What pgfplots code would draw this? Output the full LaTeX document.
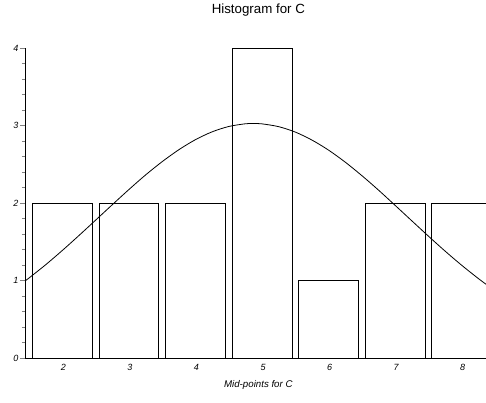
\documentclass[border=0pt]{standalone}
\usepackage{pgfplots}
\pgfplotsset{compat=1.18}
\usepackage{fontspec}
\setmainfont{Liberation Sans}
\begin{document}
\begin{tikzpicture}
\begin{axis}[
  at={(0pt,0pt)}, anchor=south west,
  scale only axis, width=466.7pt, height=310pt,
  xmin=1.44, xmax=8.45, ymin=0, ymax=4,
  clip=false,
  axis lines=left, axis line style={-, line width=0.8pt},
  xtick={2,3,4,5,6,7,8},
  ytick={0,1,2,3,4},
  minor y tick num=4,
  minor x tick num=0,
  xtick style={draw=none},
  ytick align=outside,
  xtick align=inside,
  major tick length=5pt, minor tick length=3pt,
  ytick style={line width=0.7pt},
  minor tick style={line width=0.7pt},
  /pgf/number format/assume math mode=true,
  ticklabel style={font=\fontsize{9}{10}\selectfont\itshape, inner sep=0pt},
  yticklabel style={anchor=east, xshift=-1.3pt},
  xticklabel style={anchor=north, yshift=-6.2pt, xshift=1pt},
  title={Histogram for C},
  title style={at={(axis description cs:0.5,1)}, anchor=base, yshift=28.8pt, inner sep=0pt, font=\fontsize{13.3}{16}\selectfont},
  xlabel={Mid-points for C},
  xlabel style={at={(axis description cs:0.5,0)}, anchor=base, yshift=-29pt, inner sep=0pt, font=\fontsize{9.7}{11}\selectfont\itshape},
]
\addplot[ybar, bar width=0.9, fill=white, draw=black, line width=0.8pt] coordinates {
  (2,2) (3,2) (4,2) (5,4) (6,1) (7,2) (8,2)
};
\addplot[black, line width=0.8pt, smooth] coordinates {
  (1.44,0.997) (1.5,1.036) (1.75,1.207) (2.0,1.391) (2.25,1.584) (2.5,1.782)
  (2.75,1.981) (3.0,2.177) (3.25,2.365) (3.5,2.537) (3.75,2.691) (4.0,2.821)
  (4.25,2.922) (4.5,2.991) (4.75,3.026) (4.87,3.03) (5.0,3.025) (5.25,2.989)
  (5.5,2.919) (5.75,2.816) (6.0,2.686) (6.25,2.531) (6.5,2.357) (6.75,2.170)
  (7.0,1.973) (7.25,1.774) (7.5,1.576) (7.75,1.383) (8.0,1.200) (8.25,1.029)
  (8.45,0.902)
};
\end{axis}
\pgfresetboundingbox
\path (-25pt,-43.7pt) rectangle (461pt,358.3pt);
\end{tikzpicture}
\end{document}
